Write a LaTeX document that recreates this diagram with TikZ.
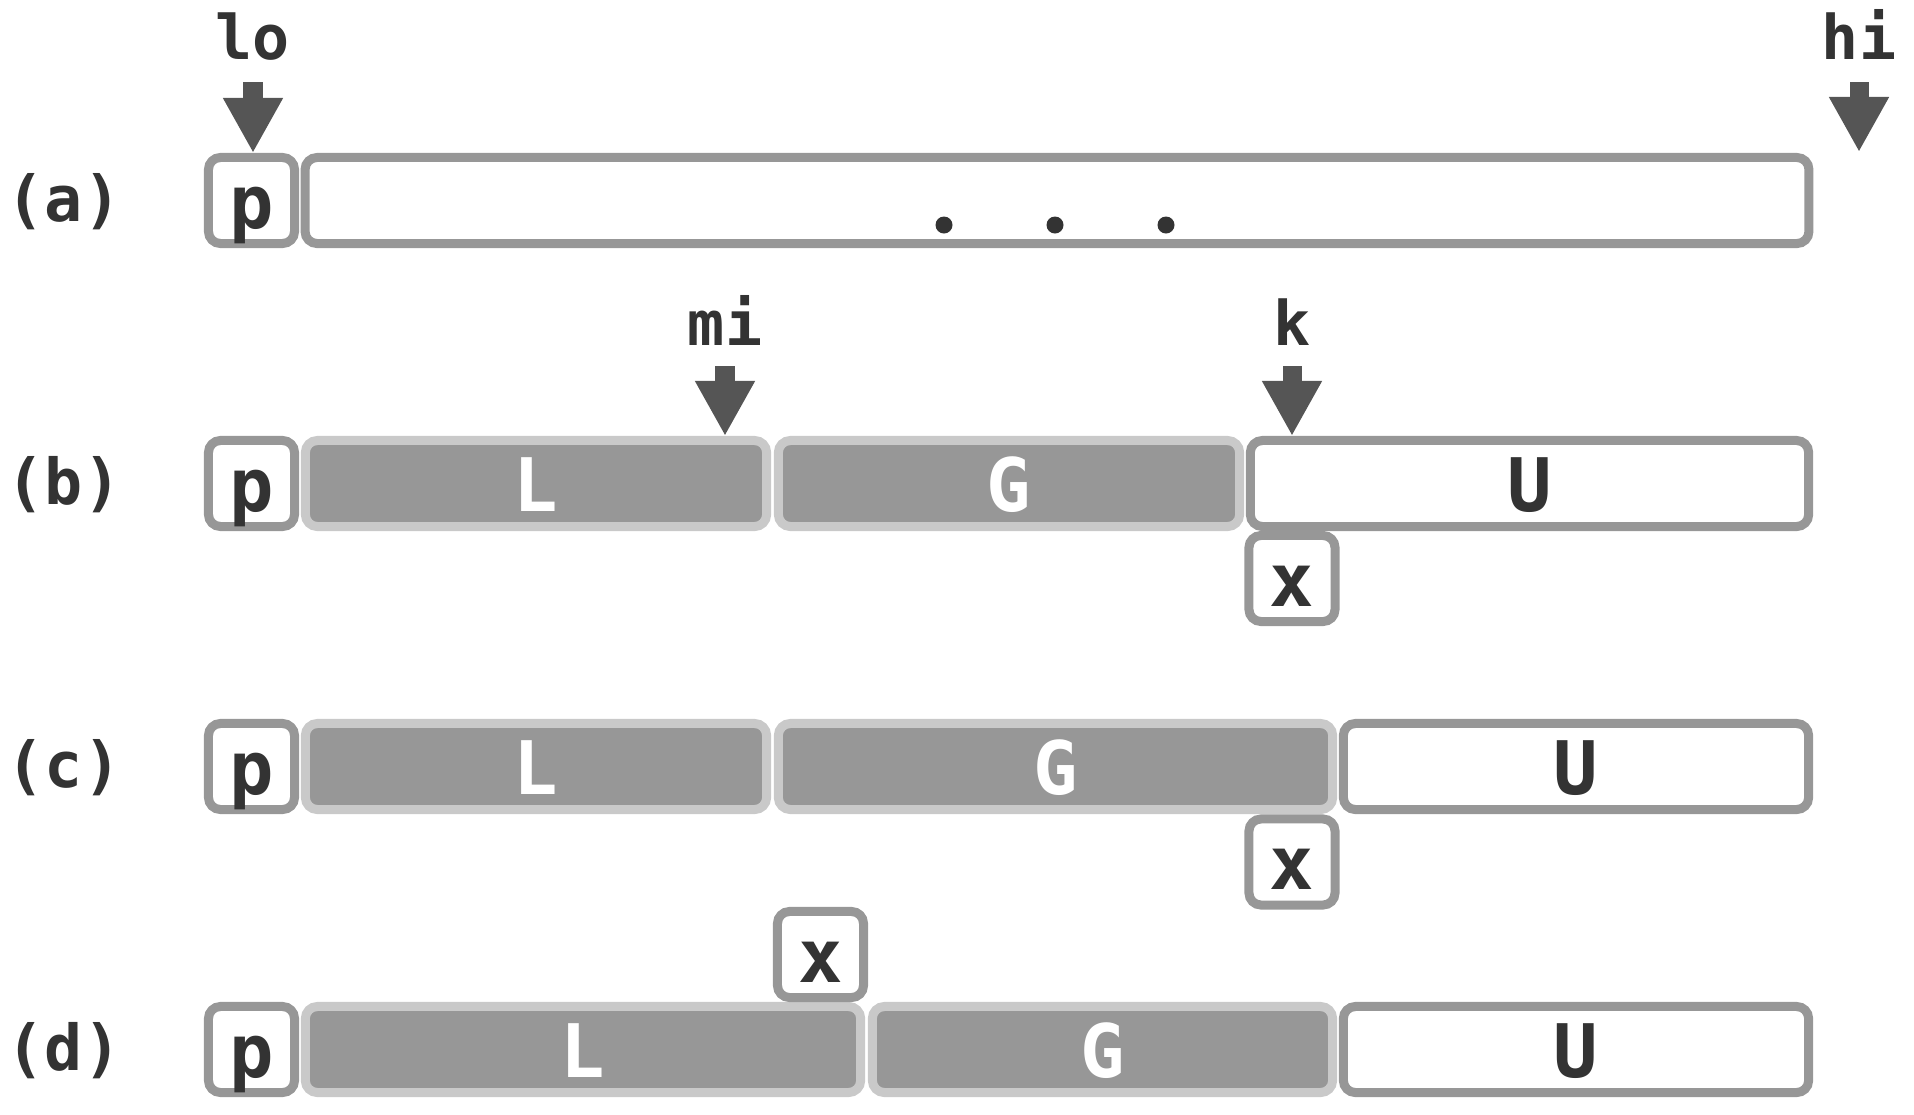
\documentclass[tikz,border=0pt]{standalone}
\usepackage{fontspec}
\setmonofont{DejaVu Sans Mono}
\usetikzlibrary{arrows.meta}

\definecolor{cellgray}{HTML}{979797}
\definecolor{celllight}{HTML}{C9C9C9}
\definecolor{ptrgray}{HTML}{555555}
\definecolor{ink}{HTML}{333333}

\tikzset{
  cell/.style={draw=cellgray, line width=0.09cm, rounded corners=0.12cm, fill=white,
    minimum width=0.86cm, minimum height=0.86cm, inner sep=0pt,
    text height=0.55cm, text depth=0pt, text=ink,
    font=\fontsize{21}{21}\selectfont\ttfamily\bfseries},
  done/.style={cell, draw=celllight, fill=cellgray, text=white},
  ptr/.style={ptrgray, line width=0.19cm, -{Triangle[width=0.56cm,length=0.55cm]}},
  ptrlabel/.style={anchor=base, text=ink, font=\fontsize{17.5}{17.5}\selectfont\ttfamily\bfseries},
  rowlabel/.style={text=ink, font=\fontsize{18}{18}\selectfont\ttfamily\bfseries},
}

\begin{document}
\begin{tikzpicture}[x=0.01cm, y=0.01cm]
  \useasboundingbox (0,0) rectangle (1914,-1114);

  % (a)
  \node[rowlabel] (la) at (64,-202) {(a)};
  \node[cell] (ap) at (251.5,-200.5) {p};
  \node[cell, minimum width=15.03cm] (arest) at (1057,-200.5) {};
  \foreach \dx in {944,1055,1166}
    \fill[ink] (\dx,-225) circle (0.085cm);
  \node[ptrlabel] (lo) at (253,-59) {lo};
  \node[ptrlabel] (hi) at (1859,-59) {hi};
  \coordinate (hiend) at (1859,-152);
  \draw[ptr] ([yshift=-0.23cm]lo.base) -- (lo.base |- ap.north);
  \draw[ptr] ([yshift=-0.23cm]hi.base) -- (hiend);

  % (b)
  \node[rowlabel] (lb) at (64,-485) {(b)};
  \node[cell] (bp) at (251.5,-483.5) {p};
  \node[done, minimum width=4.61cm] (bL) at (536,-483.5) {L};
  \node[done, minimum width=4.61cm] (bG) at (1009,-483.5) {G};
  \node[cell, minimum width=5.58cm] (bU) at (1529.5,-483.5) {U};
  \node[cell] (bx) at (1292,-578.5) {x};
  \node[ptrlabel] (mi) at (725,-345) {mi};
  \node[ptrlabel] (k) at (1292,-345) {k};
  \draw[ptr] ([yshift=-0.21cm]mi.base) -- (mi.base |- bL.north);
  \draw[ptr] ([yshift=-0.21cm]k.base) -- (k.base |- bU.north);

  % (c)
  \node[rowlabel] (lc) at (64,-768) {(c)};
  \node[cell] (cp) at (251.5,-766.5) {p};
  \node[done, minimum width=4.61cm] (cL) at (536,-766.5) {L};
  \node[done, minimum width=5.54cm] (cG) at (1055.5,-766.5) {G};
  \node[cell, minimum width=4.65cm] (cU) at (1576,-766.5) {U};
  \node[cell] (cx) at (1292,-862) {x};

  % (d)
  \node[rowlabel] (ld) at (64,-1051) {(d)};
  \node[cell] (dp) at (251.5,-1049.5) {p};
  \node[done, minimum width=5.55cm] (dL) at (583,-1049.5) {L};
  \node[done, minimum width=4.60cm] (dG) at (1102.5,-1049.5) {G};
  \node[cell, minimum width=4.65cm] (dU) at (1576,-1049.5) {U};
  \node[cell] (dx) at (820.5,-954.5) {x};
\end{tikzpicture}
\end{document}
